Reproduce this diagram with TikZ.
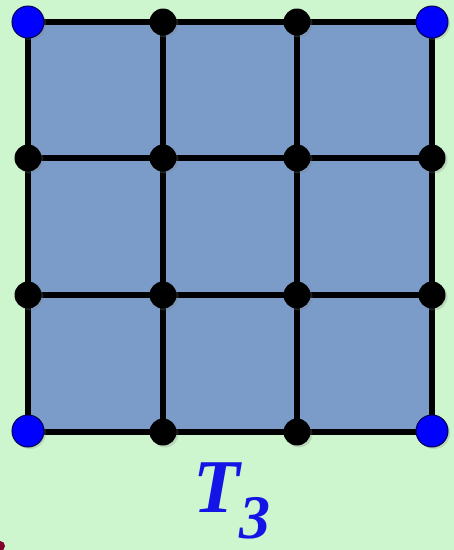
\documentclass[tikz,border=0pt]{standalone}
\usepackage{fontspec}
\setmainfont{Liberation Serif}
\usetikzlibrary{shadows}
\definecolor{bg}{HTML}{CEF6CE}
\definecolor{cell}{HTML}{7B9BC8}
\definecolor{lblue}{HTML}{1414E6}
\tikzset{
  gridline/.style={line width=6.5pt, black},
  bdot/.style={circle, fill=black, minimum size=27pt, inner sep=0pt, drop shadow={opacity=0.25, shadow xshift=2pt, shadow yshift=-2pt}},
  cdot/.style={circle, fill=blue, draw=black!70!blue, line width=1pt, minimum size=32pt, inner sep=0pt, drop shadow={opacity=0.25, shadow xshift=2pt, shadow yshift=-2pt}},
}
\begin{document}
\begin{tikzpicture}[x=1pt,y=-1pt]
\fill[bg] (0,0) rectangle (454,550);
\useasboundingbox (0,0) rectangle (454,550);
\fill[purple!70!black] (0,546) circle (5);
\fill[cell] (28,22) rectangle (432,432);
\foreach \x in {28,163,297,432} \draw[gridline] (\x,22) -- (\x,432);
\foreach \y in {22,158,295,432} \draw[gridline] (28,\y) -- (432,\y);
\foreach \x/\i in {163/1,297/2} {
  \node[bdot] (t\i) at (\x,22) {};
  \node[bdot] (b\i) at (\x,432) {};
}
\foreach \y/\j in {158/1,295/2} {
  \node[bdot] (l\j) at (28,\y) {};
  \node[bdot] (r\j) at (432,\y) {};
  \node[bdot] (m1\j) at (163,\y) {};
  \node[bdot] (m2\j) at (297,\y) {};
}
\node[cdot] (c1) at (28,22) {};
\node[cdot] (c2) at (432,22) {};
\node[cdot] (c3) at (28,431) {};
\node[cdot] (c4) at (432,431) {};
\node[text=lblue, font=\fontsize{76}{76}\selectfont\bfseries\itshape, inner sep=0pt, anchor=base] (lbl) at (232,512) {T\raisebox{-26pt}{\fontsize{62}{62}\selectfont 3}};
\end{tikzpicture}
\end{document}
